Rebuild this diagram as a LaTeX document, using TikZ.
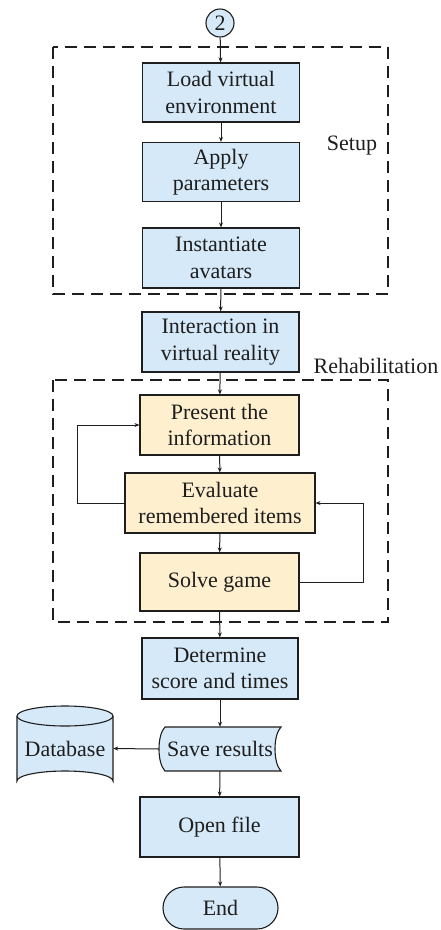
\documentclass[tikz,border=0pt]{standalone}
\usepackage{fontspec}
\setmainfont{Liberation Serif}
\usetikzlibrary{arrows.meta,calc}
\definecolor{boxblue}{RGB}{214,233,248}
\definecolor{boxorange}{RGB}{254,239,207}
\definecolor{ink}{RGB}{30,30,30}

\begin{document}
\begin{tikzpicture}[x=1pt,y=-1pt,
  txt/.style={font=\fontsize{22}{26.5}\selectfont, text=ink},
  proc/.style={txt, draw=ink, line width=1.1pt, fill=boxblue, align=center,
    inner sep=0pt, minimum width=157pt, minimum height=59pt},
  task/.style={proc, fill=boxorange},
  group/.style={draw=ink, line width=1.2pt, dash pattern=on 12pt off 7pt},
  flow/.style={draw=ink, line width=1pt, -{Stealth[length=5pt,width=4pt]}},
  line/.style={draw=ink, line width=1pt}]

\useasboundingbox (0,0) rectangle (441,930);

% phase frames
\draw[group] (53,47) rectangle (388,294);
\draw[group] (53,380) rectangle (388,622);
\node[txt, anchor=center] (setuplbl) at (352,146) {Setup};
\node[txt, anchor=center] (rehablbl) at (376,366) {Rehabilitation};

% connector from previous page
\node[txt, draw=ink, line width=1.1pt, fill=boxblue, circle, inner sep=0pt,
      minimum size=28pt] (start) at (220,23) {2};

% setup
\node[proc] (load) at (221,92.5) {Load virtual\\environment};
\node[proc] (apply) at (221,172) {Apply\\parameters};
\node[proc, minimum height=60pt] (inst) at (221,258) {Instantiate\\avatars};

\node[proc, minimum height=60pt] (inter) at (220.5,342) {Interaction in\\virtual reality};

% rehabilitation loop
\node[task, minimum width=159pt, minimum height=60pt] (present) at (219.5,425) {Present the\\information};
\node[task, minimum width=190pt, minimum height=60pt] (eval) at (220,503) {Evaluate\\remembered items};
\node[task, minimum width=159pt, minimum height=58pt] (solve) at (219.5,582) {Solve game};

\node[proc, minimum width=156pt, minimum height=61pt] (determine) at (220,668.5) {Determine\\score and times};

% stored data symbol
\node[txt, inner sep=0pt, minimum width=122pt, minimum height=44pt] (save) at (220,749) {};
\begin{scope}[shift={(save.center)}]
  \draw[line, line width=1.1pt, fill=boxblue]
    (-55,-22) -- (61,-22)
    .. controls (53,-14) and (53,14) .. (61,22)
    -- (-55,22)
    .. controls (-63,14) and (-63,-14) .. (-55,-22) -- cycle;
\end{scope}
\node[txt] at (save.center) {Save results};

% database cylinder
\node[txt, inner sep=0pt, minimum width=96pt, minimum height=85pt] (db) at (65,748.5) {};
\begin{scope}[shift={(db.center)}]
  \draw[line, line width=1.1pt, fill=boxblue]
    (-48,-32.5) -- (-48,32.5) arc[start angle=180, end angle=360, x radius=48, y radius=10]
    -- (48,-32.5) arc[start angle=0, end angle=-180, x radius=48, y radius=10] -- cycle;
  \draw[line, line width=1.1pt] (-48,-32.5) arc[start angle=180, end angle=0, x radius=48, y radius=10];
\end{scope}
\node[txt] at (db.center) {Database};

\node[proc, minimum width=159pt, minimum height=60pt] (open) at (219.5,827) {Open file};
\node[proc, rounded corners=21pt, minimum width=115pt, minimum height=42pt] (end) at (220.5,908) {End};

% main flow
\draw[flow] (start) -- (load);
\draw[flow] (load) -- (apply);
\draw[flow] (apply) -- (inst);
\draw[flow] (inst) -- (inter);
\draw[flow] (inter) -- (present);
\draw[flow] (present) -- (eval);
\draw[flow] (eval) -- (solve);
\draw[flow] (solve) -- (determine);
\draw[flow] (determine) -- (save);
\draw[flow] (save) -- (open);
\draw[flow] (open) -- (end);
\draw[flow] (save.west) -- (db.east);

% feedback loops
\coordinate (lx) at (77,0);
\coordinate (rx) at (363,0);
\draw[flow] (eval.west) -- (eval.west -| lx) -- (present.west -| lx) -- (present.west);
\draw[flow] (solve.east) -- (solve.east -| rx) -- (eval.east -| rx) -- (eval.east);
\end{tikzpicture}
\end{document}
